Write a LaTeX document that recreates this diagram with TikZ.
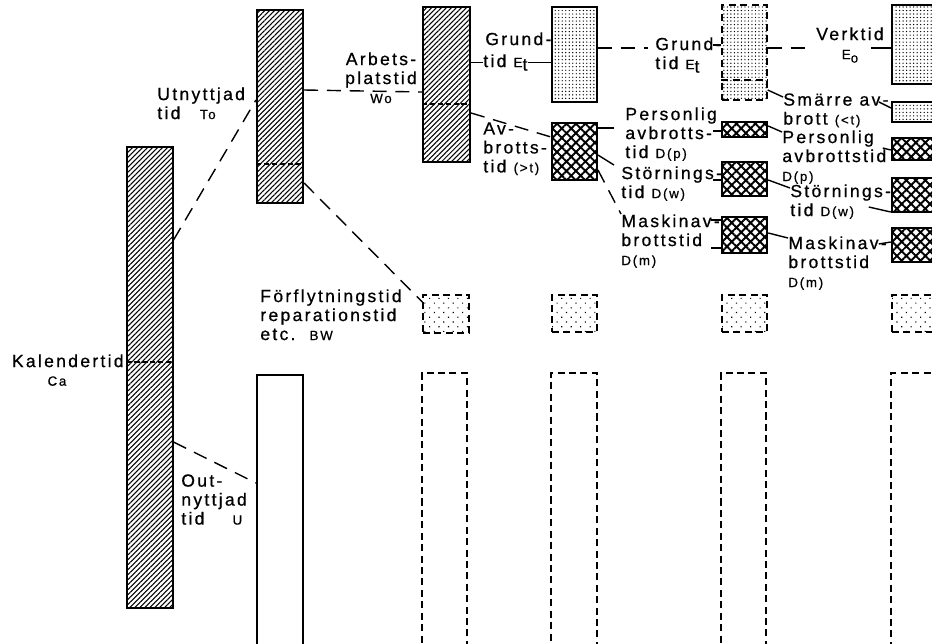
\documentclass[tikz,border=0pt]{standalone}
\usepackage{fontspec}
\setmainfont[LetterSpace=13, FakeBold=0.7]{Liberation Sans}
\usetikzlibrary{patterns.meta,fit}

\newcommand\subl[1]{{\fontsize{7.6}{8}\selectfont #1}}

\begin{document}
\begin{tikzpicture}[x=0.02cm, y=-0.02cm,
    every node/.style={inner sep=0pt, font=\fontsize{10}{10.8}\selectfont},
    lbl/.style={align=left, anchor=north west},
    bar/.style={draw, line width=1.2pt, inner sep=0pt},
    hatchbar/.style={bar, pattern={Lines[angle=45,distance=2pt,line width=0.6pt]}},
    crossbar/.style={bar, line width=1.4pt, pattern={Hatch[angle=45,distance=3.8pt,line width=1.1pt]}},
    dotbar/.style={bar, pattern={Dots[distance=2pt,radius=0.4pt]}},
    ghost/.style={draw, line width=0.8pt, dash pattern=on 4pt off 2.5pt, inner sep=0pt},
    ghostdots/.style={ghost, pattern={Dots[angle=45,distance=3.8pt,radius=0.45pt]}},
    ghostdense/.style={ghost, pattern={Dots[distance=2pt,radius=0.4pt]}},
    link/.style={line width=0.8pt},
    dlink/.style={line width=0.8pt, dash pattern=on 8pt off 5pt},
    split/.style={line width=1.1pt, dash pattern=on 3pt off 1.5pt}]
    \useasboundingbox (0,0) rectangle (932,643);

    % Kalendertid Ca
    \node[hatchbar, fit={(127,147) (173,608)}] (ca) {};
    \draw[split] (ca.west |- 0,362) -- (ca.east |- 0,362);
    \node[anchor=north east] (kal) at (124,354) {Kalendertid};
    \node[anchor=north] (kalsub) at (57,376) {\subl{Ca}};

    % Utnyttjad tid To / Outnyttjad tid U
    \node[hatchbar, fit={(257,10) (303,203)}] (to) {};
    \draw[split] (to.west |- 0,164) -- (to.east |- 0,164);
    \node[bar, fit={(257,375) (303,660)}] (u) {};
    \node[lbl] (utn) at (157,87) {Utnyttjad\\tid\hspace{11pt}\subl{To}};
    \node[lbl] (outn) at (181,474) {Out-\\nyttjad\\tid\hspace{16pt}\subl{U}};
    \draw[dlink] (ca.east |- 0,240) -- (to.west |- 0,100);
    \draw[dlink] (ca.east |- 0,442) -- (u.west |- 0,483);

    % Arbetsplatstid Wo
    \node[hatchbar, fit={(423,7) (470,162)}] (wo) {};
    \draw[split] (wo.west |- 0,104) -- (wo.east |- 0,104);
    \node[align=center, anchor=north] (arb) at (381,52) {Arbets-\\platstid\\\subl{Wo}};
    \draw[dlink] (to.east |- 0,90) -- (wo.west |- 0,92);

    % Forflyttningstid BW row
    \node[ghostdots, fit={(423,295) (469,333)}] (bw3) {};
    \node[ghostdots, fit={(552,295) (597,332)}] (bw4) {};
    \node[ghostdots, fit={(722,295) (767,332)}] (bw5) {};
    \node[ghostdots, fit={(892,295) (950,332)}] (bw6) {};
    \node[lbl] (forf) at (260,289) {Förflytningstid\\reparationstid\\etc.\hspace{8pt}\subl{BW}};
    \draw[dlink] (to.east |- 0,183) -- (bw3.west |- 0,302);

    % empty columns below
    \node[ghost, fit={(422,373) (467,660)}] (tom3) {};
    \node[ghost, fit={(551,373) (597,660)}] (tom4) {};
    \node[ghost, fit={(721,373) (766,660)}] (tom5) {};
    \node[ghost, fit={(891,373) (950,660)}] (tom6) {};

    % Grundtid Et and Avbrottstid
    \node[dotbar, fit={(552,7) (597,102)}] (gt3) {};
    \node[crossbar, fit={(552,123) (597,180)}] (av3) {};
    \node[lbl] (gr3a) at (485,32) {Grund-};
    \node[lbl] (gr3b) at (483,54) {tid \subl{E}\raisebox{-2pt}{t}};
    \node[lbl] (avb) at (483,122) {Av-\\brotts-\\tid \subl{(>t)}};
    \draw[link] (wo.east |- gr3b) -- (gr3b.west);
    \draw[link] (gr3b.east) -- (gt3.west |- gr3b);
    \draw[dlink] (wo.east |- 0,113) -- (av3.west |- 0,137);

    % split of Avbrottstid
    \node[ghostdense, fit={(722,5) (767,100)}] (gt4) {};
    \draw[ghost] (gt4.west |- 0,80) -- (gt4.east |- 0,80);
    \node[crossbar, fit={(722,122) (767,137)}] (pe4) {};
    \node[crossbar, fit={(722,162) (767,196)}] (st4) {};
    \node[crossbar, fit={(722,217) (767,253)}] (ma4) {};
    \node[lbl] (gr4) at (655,37) {Grund-\\tid \subl{E}\raisebox{-2pt}{t}};
    \node[lbl] (pers3) at (625,107) {Personlig\\avbrotts-\\tid \subl{D(p)}};
    \node[lbl] (stor3) at (621,166) {Störnings-\\tid \subl{D(w)}};
    \node[lbl] (mask3) at (621,214) {Maskinav-\\brottstid\\\subl{D(m)}};
    \draw[dlink, shorten >=4pt] (gt3.east |- 0,48) -- (gr4.west |- 0,48);
    \draw[link] (gt4.west |- 0,45) -- +(-8,0);
    \draw[link] (av3.east |- 0,128) -- +(16,0);
    \draw[link] (pe4.west |- 0,131) -- +(-8,0);
    \draw[link] (av3.east |- 0,155) -- +(16,10);
    \draw[link] (st4.west |- 0,180) -- +(-8,0);
    \draw[dlink] (av3.east |- 0,170) -- (mask3.north west);
    \draw[link] (ma4.west |- 0,220) -- +(-10,0);
    \draw[link] (ma4.west |- 0,248) -- +(-10,0);

    % Verktid Eo and the small stops
    \node[dotbar, fit={(892,5) (950,84)}] (vt5) {};
    \node[dotbar, fit={(892,102) (950,122)}] (sm5) {};
    \node[crossbar, fit={(892,138) (950,160)}] (pe5) {};
    \node[crossbar, fit={(892,178) (950,212)}] (st5) {};
    \node[crossbar, fit={(892,228) (950,262)}] (ma5) {};
    \node[align=center, anchor=north] (verk) at (850,27) {Verktid\\\subl{E}\raisebox{-2pt}{\subl{o}}};
    \node[lbl] (smar) at (783,93) {Smärre av-\\brott \subl{(<t)}};
    \node[lbl] (pers5) at (782,130) {Personlig\\avbrottstid\\\subl{D(p)}};
    \node[lbl] (stor5) at (790,184) {Störnings-\\tid \subl{D(w)}};
    \node[lbl] (mask5) at (788,236) {Maskinav-\\brottstid\\\subl{D(m)}};
    \draw[dlink, shorten >=3pt] (gt4.east |- 0,48) -- (verk.west |- 0,48);
    \draw[link] (vt5.west |- 0,48) -- +(-20,0);
    \draw[link] (gt4.east |- 0,90) -- (smar.west |- 0,97);
    \draw[link] (sm5.west |- 0,108) -- +(-12,-6);
    \draw[link] (pe4.east |- 0,126) -- (pers5.west |- 0,132);
    \draw[link] (pe5.west |- 0,150) -- +(-8,-2);
    \draw[link] (st4.east |- 0,180) -- (stor5.west |- 0,188);
    \draw[link] (st5.west |- 0,212) -- +(-22,-5);
    \draw[link] (ma4.east |- 0,233) -- (mask5.west |- 0,238);
    \draw[link] (ma5.west |- 0,242) -- +(-12,2);
\end{tikzpicture}
\end{document}
